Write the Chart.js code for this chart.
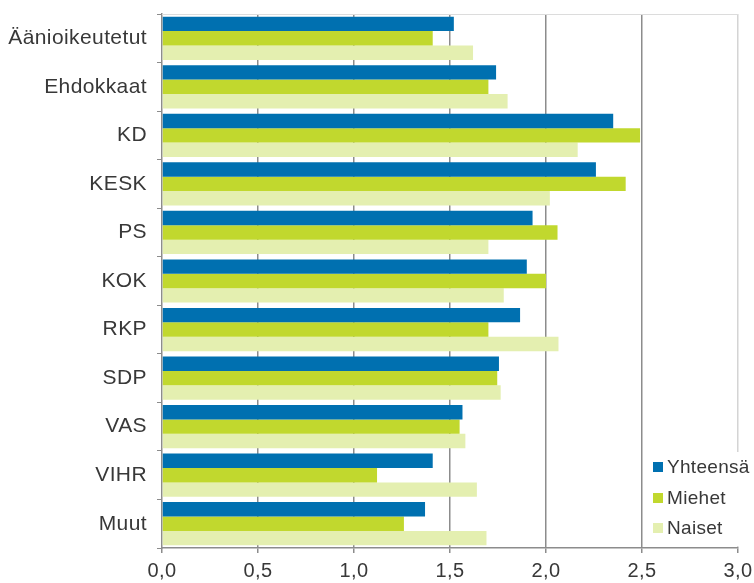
<!DOCTYPE html>
<html>
<head>
<meta charset="utf-8">
<script src="https://cdn.jsdelivr.net/npm/chart.js@4/dist/chart.umd.min.js"></script>
<style>
  html, body { margin: 0; padding: 0; background: #fff; }
  #wrap { width: 754px; height: 583px; }
</style>
</head>
<body>
<div id="wrap"><canvas id="chart" width="754" height="583"></canvas></div>
<script>
const categories = ['Äänioikeutetut', 'Ehdokkaat', 'KD', 'KESK', 'PS', 'KOK', 'RKP', 'SDP', 'VAS', 'VIHR', 'Muut'];
const yhteensa = [1.52, 1.74, 2.35, 2.26, 1.93, 1.90, 1.865, 1.755, 1.565, 1.41, 1.37];
const miehet   = [1.41, 1.70, 2.49, 2.415, 2.06, 2.00, 1.70, 1.746, 1.55, 1.12, 1.26];
const naiset   = [1.62, 1.80, 2.165, 2.02, 1.70, 1.78, 2.065, 1.764, 1.58, 1.64, 1.69];
const seriesNames = ['Yhteensä', 'Miehet', 'Naiset'];
const seriesColors = ['#0070b0', '#c1d82e', '#e4efb0'];

const FONT = "'Liberation Sans', Arial, sans-serif";
const TEXT = '#383838';

// slightly wider lettering, like the original
const spacingPlugin = {
  id: 'spacing',
  beforeDraw(chart) { chart.ctx.letterSpacing = '0.4px'; }
};

// top frame line of the plot area
const framePlugin = {
  id: 'frame',
  beforeDatasetsDraw(chart) {
    const { ctx, chartArea: a } = chart;
    ctx.save();
    ctx.strokeStyle = '#dcdcdc';
    ctx.lineWidth = 1;
    ctx.beginPath();
    ctx.moveTo(a.left, a.top + 0.5);
    ctx.lineTo(a.right, a.top + 0.5);
    ctx.stroke();
    ctx.restore();
  }
};

// legend sitting inside the plot, bottom right
const innerLegend = {
  id: 'innerLegend',
  afterDraw(chart) {
    const { ctx, chartArea: a } = chart;
    const x = a.right - 85;
    const rows = [a.bottom - 81, a.bottom - 50, a.bottom - 20];
    ctx.save();
    ctx.fillStyle = '#fff';
    ctx.fillRect(x - 6, a.bottom - 96, 754 - (x - 6), 94);
    ctx.font = '19px ' + FONT;
    ctx.letterSpacing = '0.3px';
    ctx.textBaseline = 'middle';
    chart.data.datasets.forEach((ds, i) => {
      ctx.fillStyle = ds.backgroundColor;
      ctx.fillRect(x, rows[i] - 5, 10, 10);
      ctx.fillStyle = TEXT;
      ctx.fillText(ds.label, x + 14, rows[i] + 1);
    });
    ctx.restore();
  }
};

const datasets = [yhteensa, miehet, naiset].map((vals, i) => ({
  label: seriesNames[i],
  data: vals,
  backgroundColor: seriesColors[i],
  borderWidth: 0,
  categoryPercentage: 0.89,
  barPercentage: 1.0
}));

new Chart(document.getElementById('chart'), {
  type: 'bar',
  data: { labels: categories, datasets },
  options: {
    indexAxis: 'y',
    responsive: false,
    animation: false,
    layout: { padding: { left: 0, top: 14, right: 16, bottom: 0 } },
    plugins: { legend: { display: false }, tooltip: { enabled: false } },
    scales: {
      x: {
        min: 0,
        max: 3,
        ticks: {
          stepSize: 0.5,
          color: TEXT,
          padding: 6,
          font: { family: FONT, size: 20 },
          callback: v => v.toFixed(1).replace('.', ',')
        },
        grid: {
          color: ctx => ctx.tick && ctx.tick.value === 3 ? '#d4d4d4' : (ctx.tick && ctx.tick.value === 0 ? 'rgba(0,0,0,0)' : '#8c8c8c'),
          lineWidth: 1.5,
          tickColor: '#8c8c8c',
          tickLength: 5
        },
        border: { color: '#8c8c8c', width: 1.5 },
        afterFit: s => { s.height = 35; s.paddingLeft = 0; s.paddingRight = 0; }
      },
      y: {
        ticks: {
          color: TEXT,
          padding: 10,
          font: { family: FONT, size: 21 }
        },
        grid: {
          offset: true,
          drawOnChartArea: false,
          tickColor: '#8c8c8c',
          tickLength: 5
        },
        border: { color: '#8c8c8c', width: 1.5 },
        afterFit: s => { s.width = 162; s.paddingTop = 0; s.paddingBottom = 0; }
      }
    }
  },
  plugins: [spacingPlugin, framePlugin, innerLegend]
});
</script>
</body>
</html>
